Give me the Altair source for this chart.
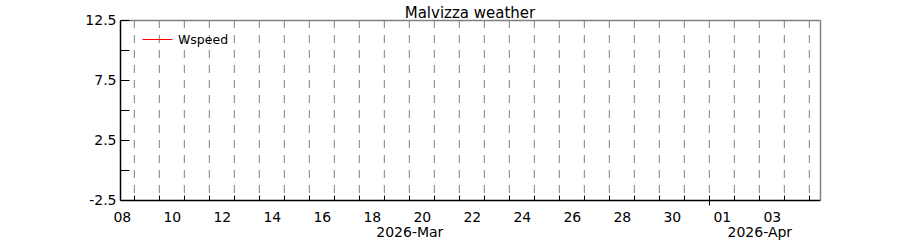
import altair as alt
import pandas as pd

# ---------------- data ----------------
title_text = "Malvizza weather"
series_names = ["Wspeed"]
series_colors = ["#ff0000"]
# no Wspeed values are drawn in the reference
wspeed_times = []
wspeed_values = []

x_domain = ["2026-03-08T10:15:00Z", "2026-04-05T10:15:00Z"]
y_domain = [-2.5, 12.5]

day_ticks = ([f"2026-03-{d:02d}T00:00:00Z" for d in range(9, 32)]
             + [f"2026-04-{d:02d}T00:00:00Z" for d in range(1, 6)])
day_label_dates = ["2026-03-08T12:00:00Z", "2026-03-10T12:00:00Z", "2026-03-12T12:00:00Z",
                   "2026-03-14T12:00:00Z", "2026-03-16T12:00:00Z", "2026-03-18T12:00:00Z",
                   "2026-03-20T12:00:00Z", "2026-03-22T12:00:00Z", "2026-03-24T12:00:00Z",
                   "2026-03-26T12:00:00Z", "2026-03-28T12:00:00Z", "2026-03-30T12:00:00Z",
                   "2026-04-01T12:00:00Z", "2026-04-03T12:00:00Z"]
month_label_dates = ["2026-03-20T00:00:00Z", "2026-04-03T00:00:00Z"]
month_boundaries = ["2026-04-01T00:00:00Z"]

y_label_values = [-2.5, 2.5, 7.5, 12.5]
y_tick_values = [-2.5, 0, 2.5, 5, 7.5, 10, 12.5]


def ms(s):
    return int(pd.Timestamp(s).value // 10**6)


W, H = 700, 180
FONT = "DejaVu Sans"
GRAY = "#808080"

xs = alt.Scale(type="utc", domain=[ms(s) for s in x_domain])
ys = alt.Scale(domain=y_domain, nice=False, zero=False)

# ---------------- layers ----------------
grid_df = pd.DataFrame({"t": [ms(s) for s in day_ticks]})
grid = alt.Chart(grid_df).mark_rule(color=GRAY, strokeWidth=1, strokeDash=[8, 7]).encode(
    x=alt.X("t:T", scale=xs, axis=alt.Axis(
        orient="bottom", values=[ms(s) for s in day_label_dates],
        labelExpr="utcFormat(datum.value, '%d')", ticks=False, tickSize=0,
        domain=True, domainColor="black", domainWidth=1.5, labelFontSize=14,
        labelFont=FONT, labelColor="black", labelPadding=10, labelFlush=False,
        labelOverlap=False, labelAlign="center", grid=False, title=None)),
    y=alt.value(0), y2=alt.value(H),
)

line_df = pd.DataFrame({"t": [ms(s) for s in wspeed_times],
                        "v": wspeed_values,
                        "series": [series_names[0]] * len(wspeed_values)})
line = alt.Chart(alt.Data(values=line_df.to_dict("records"))).mark_line(strokeWidth=1).encode(
    x=alt.X("t:T", scale=xs, axis=alt.Axis(
        orient="top", offset=-H, values=[ms(s) for s in day_ticks], ticks=True,
        tickSize=5, tickColor="black", tickWidth=1, labels=False, domain=False,
        grid=False, title=None)),
    y=alt.Y("v:Q", scale=ys, axis=alt.Axis(
        orient="left", values=y_label_values,
        labelExpr="datum.value < 0 ? '-' + format(-datum.value, '.1f') : format(datum.value, '.1f')",
        ticks=False, tickSize=0,
        labelPadding=4, labelFontSize=14, labelFont=FONT, labelColor="black",
        labelFlush=False, labelOverlap=False, domain=True, domainColor="black",
        domainWidth=1.5, grid=False, title=None)),
    color=alt.Color("series:N", scale=alt.Scale(domain=series_names, range=series_colors),
                    legend=alt.Legend(title=None, orient="none", legendX=22, legendY=4,
                                      symbolType="stroke", symbolSize=900,
                                      symbolStrokeWidth=1, labelFontSize=12.5,
                                      labelFont=FONT, labelColor="black", labelOffset=5,
                                      padding=0, rowPadding=0)),
)


def axis_layer(xaxis=None, yaxis=None):
    enc = {}
    if xaxis is not None:
        enc["x"] = alt.X("t:T", scale=xs, axis=xaxis)
    if yaxis is not None:
        enc["y"] = alt.Y("v:Q", scale=ys, axis=yaxis)
    return alt.Chart(alt.Data(values=[])).mark_point(opacity=0).encode(**enc)


# month labels + inward y ticks
layer3 = axis_layer(
    xaxis=alt.Axis(orient="bottom", values=[ms(s) for s in month_label_dates],
                   labelExpr="utcFormat(datum.value, '%Y-%b')", ticks=False, tickSize=0,
                   domain=False, labelPadding=25, labelFontSize=14, labelFont=FONT,
                   labelColor="black", labelFlush=False, labelOverlap=False,
                   grid=False, title=None),
    yaxis=alt.Axis(orient="right", offset=-W, values=y_tick_values, ticks=True,
                   tickSize=9, tickColor="black", tickWidth=1, labels=False,
                   domain=False, grid=False, title=None),
)
# gray top / right frame
layer4 = axis_layer(
    xaxis=alt.Axis(orient="top", values=[], ticks=False, labels=False, domain=True,
                   domainColor=GRAY, domainWidth=1.5, grid=False, title=None),
    yaxis=alt.Axis(orient="right", values=[], ticks=False, labels=False, domain=True,
                   domainColor=GRAY, domainWidth=1.5, grid=False, title=None),
)
# month boundary tick pointing outward
layer5 = axis_layer(
    xaxis=alt.Axis(orient="bottom", values=[ms(s) for s in month_boundaries], ticks=True,
                   tickSize=5, tickColor="black", tickWidth=1, labels=False,
                   domain=False, grid=False, title=None),
)

chart = alt.layer(grid, line, layer3, layer4, layer5).resolve_axis(
    x="independent", y="independent"
).properties(
    width=W, height=H,
    autosize=alt.AutoSizeParams(type="none"),
    padding={"left": 120, "top": 20, "right": 80, "bottom": 50},
    title=alt.TitleParams(text=title_text, fontSize=15, fontWeight="normal", font=FONT,
                          anchor="middle", baseline="alphabetic", offset=-19.5, color="black"),
).configure(font=FONT).configure_view(stroke=None)

chart.save("out.html", embed_options={"renderer": "svg", "actions": False})
